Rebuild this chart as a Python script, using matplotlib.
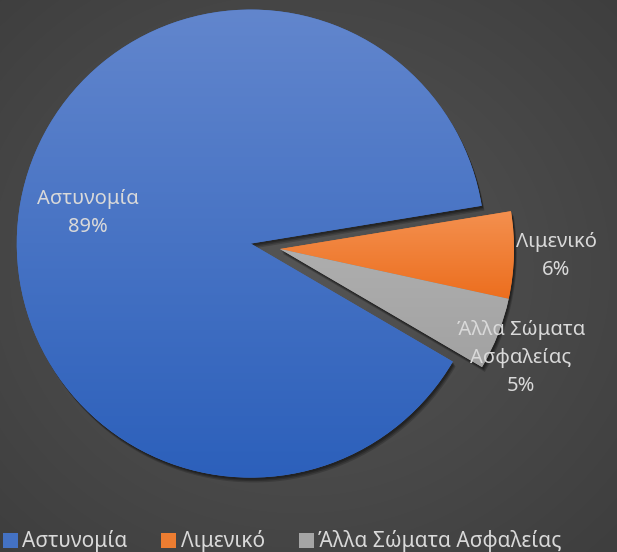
import numpy as np
import matplotlib.pyplot as plt
import matplotlib.patheffects as pe
from matplotlib.patches import Patch
from matplotlib.colors import LinearSegmentedColormap

# data
categories = ['Αστυνομία', 'Λιμενικό', 'Άλλα Σώματα Ασφαλείας']
slice_labels = ['Αστυνομία', 'Λιμενικό', 'Άλλα Σώματα\nΑσφαλείας']
shares = [89, 6, 5]

colors = ['#4472C4', '#ED7D31', '#A5A5A5']
tops = ['#6286CD', '#F4904F', '#AEAEAE']
bottoms = ['#2C60BB', '#EC6E1E', '#A2A2A2']
label_dist = [0.71, 1.18, 1.13]
label_turn = [0, 0, -3]   # degrees, nudges like excel's best fit
text_col = '#D9D9D9'

plt.rcParams['font.family'] = ['Noto Sans', 'DejaVu Sans']

fig = plt.figure(figsize=(6.17, 5.52), dpi=100)

# radial background
bg = fig.add_axes([0, 0, 1, 1])
bg.axis('off')
yy, xx = np.mgrid[0:552, 0:617]
d = np.hypot((xx - 300) / 617.0, (yy - 270) / 552.0)
bg_cmap = LinearSegmentedColormap.from_list('bg', ['#555555', '#3E3E3E'])
bg.imshow(d / d.max(), cmap=bg_cmap, aspect='auto', interpolation='bilinear')

ax = fig.add_axes([0, 0, 1, 1])
ax.set_facecolor('none')

wedges, _ = ax.pie(shares, colors=colors, explode=[0.127, 0, 0],
                   startangle=-30.3, counterclock=False, radius=1,
                   wedgeprops=dict(linewidth=0))

# soft shadow, mostly below/right
shadow = [pe.SimplePatchShadow(offset=(2, -3.5), shadow_rgbFace='black', alpha=0.18),
          pe.SimplePatchShadow(offset=(1.5, -2.5), shadow_rgbFace='black', alpha=0.22),
          pe.SimplePatchShadow(offset=(1, -1.5), shadow_rgbFace='black', alpha=0.25),
          pe.Normal()]

grad = np.linspace(0, 1, 256).reshape(-1, 1)
for i, w in enumerate(wedges):
    w.set_path_effects(shadow)
    v = w.get_path().vertices
    x0, x1 = v[:, 0].min(), v[:, 0].max()
    y0, y1 = v[:, 1].min(), v[:, 1].max()
    cm = LinearSegmentedColormap.from_list('g%d' % i, [tops[i], bottoms[i]])
    im = ax.imshow(grad, cmap=cm, extent=(x0, x1, y0, y1), origin='upper',
                   aspect='auto', zorder=w.get_zorder() + 0.1)
    im.set_clip_path(w)

    mid = np.deg2rad((w.theta1 + w.theta2) / 2.0 + label_turn[i])
    cx, cy = w.center
    ax.text(cx + label_dist[i] * np.cos(mid), cy + label_dist[i] * np.sin(mid),
            '%s\n%d%%' % (slice_labels[i], shares[i]),
            ha='center', va='center', multialignment='center',
            color=text_col, fontsize=14.5, linespacing=1.55, zorder=5)

R = 234.0
ax.set_xlim(-280 / R, 337 / R)
ax.set_ylim(-(552 - 249) / R, 249 / R)
ax.set_aspect('auto')
ax.axis('off')

handles = [Patch(facecolor=c, edgecolor='none') for c in colors]
fig.legend(handles, categories, loc='lower left', bbox_to_anchor=(-0.006, -0.012),
           ncol=3, frameon=False, fontsize=15, labelcolor=text_col,
           handlelength=0.72, handleheight=0.72, handletextpad=0.2,
           columnspacing=1.65, borderaxespad=0.0, borderpad=0.3)

fig.savefig('out.png', dpi=100)
